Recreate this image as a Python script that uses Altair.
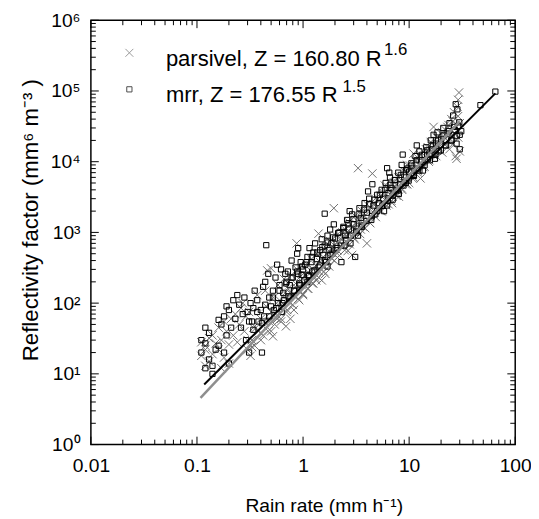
import altair as alt
import pandas as pd

# ---------------- data ----------------
parsivel_R = [
    0.11, 0.12, 0.11, 0.13, 0.12, 0.14, 0.13, 0.15, 0.14, 0.12,
    0.16, 0.17, 0.18, 0.19, 0.20, 0.21, 0.18, 0.20, 0.22, 0.17, 0.16,
    0.23, 0.25, 0.26, 0.28, 0.30, 0.32, 0.29, 0.33, 0.24, 0.27, 0.31, 0.34, 0.35,
    0.37, 0.40, 0.42, 0.45, 0.38, 0.48, 0.44, 0.50, 0.46, 0.50,
    0.52, 0.55, 0.60, 0.58, 0.62, 0.65, 0.69, 0.68, 0.53, 0.57, 0.66, 0.70,
    0.72, 0.75, 0.78, 0.80, 0.82, 0.85, 0.87, 0.88, 0.90, 0.92, 0.95, 0.97, 1.00, 0.76,
    1.05, 1.10, 1.12, 1.15, 1.20, 1.22, 1.25, 1.30, 1.33, 1.35, 1.40, 1.42, 1.45, 1.50,
    1.55, 1.60, 1.65, 1.70, 1.75, 1.80, 1.85, 1.90, 1.95, 2.00, 2.05, 2.10, 2.15, 1.62,
    2.30, 2.40, 2.50, 2.55, 2.60, 2.70, 2.80, 2.90, 2.95, 3.00, 3.10, 3.20, 2.35, 2.65,
    3.3, 3.4, 3.5, 3.6, 3.8, 4.0, 4.0, 4.2, 4.4, 4.5, 4.6, 4.8, 5.0, 3.7,
    5.2, 5.5, 5.7, 6.0, 6.2, 6.4, 6.6, 6.8, 7.0, 5.4, 6.9, 5.9,
    7.3, 7.6, 7.9, 8.2, 8.5, 8.8, 9.0, 9.3, 9.6, 10.0, 10.0, 8.0,
    10.5, 11.0, 11.5, 12.0, 12.5, 13.0, 13.5, 14.0, 14.5, 15.0, 11.0, 12.8,
    15.5, 16.0, 16.5, 17.0, 17.5, 18.0, 18.5, 19.0, 20.0, 20.5, 21.0, 22.0,
    23.0, 23.5, 24.0, 25.0, 25.5, 26.0, 26.5, 27.0, 27.5, 28.0, 28.5, 29.0, 29.5, 30.0, 30.0, 29.0,
    # dense band along the fit
    0.30, 0.33, 0.36, 0.40, 0.43, 0.47, 0.50, 0.54, 0.58, 0.62, 0.66, 0.71, 0.75, 0.80,
    0.85, 0.90, 0.95, 1.0, 1.05, 1.1, 1.17, 1.25, 1.32, 1.4, 1.48, 1.57, 1.66, 1.76,
    1.86, 1.97, 2.08, 2.2, 2.33, 2.47, 2.6, 2.75, 2.9, 3.07, 3.25, 3.45, 3.65, 3.85,
    4.1, 4.3, 4.6, 4.85, 5.1, 5.4, 5.75, 6.1, 6.45, 6.8, 7.2, 7.6, 8.1, 8.6, 9.1, 9.6,
    10.2, 10.8, 11.4, 12.1, 12.8, 13.6, 14.4, 15.3, 16.2, 17.2, 18.2, 19.3, 20.5,
    21.7, 23.0, 24.4, 25.8, 27.3, 28.9,
]
parsivel_Z = [
    28, 22, 18, 32, 25, 19, 15, 27, 35, 13,
    22, 30, 17, 40, 26, 60, 55, 14, 35, 12, 45,
    70, 50, 85, 40, 22, 18, 65, 30, 28, 100, 75, 45, 25,
    130, 60, 35, 90, 40, 55, 150, 40, 290, 310,
    34, 70, 110, 180, 55, 90, 47, 140, 120, 60, 220, 75,
    160, 100, 250, 130, 80, 190, 700, 300, 150, 110, 240, 180, 130, 60,
    200, 350, 160, 260, 420, 190, 300, 230, 210, 500, 960, 280, 380, 210,
    450, 330, 600, 400, 520, 750, 430, 620, 2200, 480, 900, 560, 700, 260,
    800, 650, 1100, 900, 700, 1400, 1000, 480, 1200, 850, 1700, 1300, 1000, 550,
    8100, 1500, 1100, 2000, 1700, 700, 2500, 1400, 2200, 6800, 1900, 3000, 2300, 1200,
    2800, 2000, 3500, 3000, 4200, 2500, 3800, 5000, 3200, 3300, 2600, 4600,
    4500, 3600, 6000, 5200, 4200, 7500, 5800, 4800, 9000, 6500, 5000, 3200,
    8000, 6000, 10000, 7500, 12000, 9000, 14000, 8500, 11500, 16000, 13000, 5800,
    10500, 19000, 14000, 31000, 17000, 12000, 22000, 16000, 25000, 13500, 19500, 28000,
    20000, 33000, 15000, 40000, 24000, 18000, 50000, 30000, 12000, 11000, 60000, 22000, 95000, 35000, 14000, 75000,
    30, 24, 45, 30, 55, 40, 75, 50, 95, 60, 120, 80, 140, 95,
    170, 115, 210, 135, 250, 160, 290, 190, 340, 230, 420, 280, 500, 330,
    600, 400, 720, 470, 850, 560, 1000, 680, 1200, 800, 1450, 950, 1750, 1150,
    2100, 1350, 2500, 1650, 3000, 2000, 3600, 2400, 4300, 2800, 5100, 3300, 6200, 4000, 7300, 4800,
    8800, 5800, 10500, 7000, 12500, 8400, 15000, 10000, 18000, 12000, 22000, 14500, 26000,
    17500, 31000, 21000, 37000, 25000, 44000,
]

mrr_R = [
    0.11, 0.12, 0.11, 0.13, 0.12, 0.14, 0.13, 0.15, 0.14, 0.12,
    0.16, 0.17, 0.18, 0.19, 0.20, 0.21, 0.18, 0.20, 0.22, 0.16, 0.19,
    0.23, 0.25, 0.26, 0.28, 0.30, 0.32, 0.29, 0.33, 0.24, 0.27, 0.31, 0.34, 0.35,
    0.37, 0.40, 0.42, 0.45, 0.38, 0.48, 0.44, 0.50, 0.41, 0.47, 0.43,
    0.52, 0.55, 0.60, 0.58, 0.62, 0.65, 0.68, 0.53, 0.57, 0.66, 0.70, 0.63,
    0.72, 0.75, 0.78, 0.80, 0.82, 0.85, 0.88, 0.90, 0.92, 0.95, 0.97, 1.00, 0.76, 0.90,
    1.05, 1.10, 1.12, 1.15, 1.20, 1.22, 1.25, 1.30, 1.35, 1.40, 1.45, 1.50, 1.10, 1.60,
    1.55, 1.60, 1.65, 1.70, 1.75, 1.80, 1.85, 1.90, 1.95, 2.00, 2.10, 2.20, 1.70,
    2.30, 2.40, 2.50, 2.60, 2.70, 2.80, 2.90, 3.00, 3.10, 3.20, 2.45, 2.75,
    3.4, 3.5, 3.6, 3.8, 4.0, 4.2, 4.4, 4.5, 4.6, 4.8, 5.0, 3.3, 4.1,
    5.2, 5.5, 5.7, 6.0, 6.2, 6.4, 6.6, 6.8, 7.0, 5.8, 6.5,
    7.3, 7.6, 7.9, 8.2, 8.5, 8.7, 9.0, 9.3, 9.6, 10.0, 8.0, 6.2,
    10.5, 11.0, 11.5, 12.0, 12.5, 13.0, 13.5, 14.0, 14.5, 15.0, 11.8,
    15.5, 16.0, 16.5, 17.0, 17.5, 18.0, 18.5, 19.0, 20.0, 21.0, 22.0,
    23.0, 24.0, 25.0, 26.0, 27.0, 28.0, 28.5, 29.0, 30.0, 30.0, 31.0, 27.5, 47.0, 65.0,
    # dense band along the fit
    0.31, 0.34, 0.37, 0.41, 0.44, 0.48, 0.52, 0.56, 0.60, 0.64, 0.69, 0.73, 0.78, 0.83,
    0.88, 0.93, 0.98, 1.03, 1.08, 1.14, 1.21, 1.28, 1.36, 1.44, 1.52, 1.61, 1.71, 1.81,
    1.92, 2.03, 2.14, 2.27, 2.4, 2.54, 2.68, 2.83, 2.99, 3.16, 3.35, 3.55, 3.75, 3.97,
    4.2, 4.45, 4.72, 5.0, 5.3, 5.6, 5.95, 6.3, 6.65, 7.0, 7.4, 7.85, 8.35, 8.85, 9.35, 9.9,
    10.5, 11.1, 11.8, 12.5, 13.2, 14.0, 14.8, 15.7, 16.7, 17.7, 18.8, 19.9, 21.1,
    22.3, 23.7, 25.1, 26.6, 28.1, 29.7,
]
mrr_Z = [
    30, 12, 20, 16, 27, 10, 38, 22, 13, 45,
    25, 50, 65, 35, 80, 45, 20, 14, 110, 58, 90,
    60, 95, 45, 120, 75, 100, 30, 55, 130, 70, 20, 85, 150,
    110, 80, 170, 660, 55, 120, 200, 90, 20, 260, 65,
    150, 230, 180, 100, 300, 140, 260, 80, 350, 110, 200, 75,
    280, 180, 400, 230, 150, 320, 500, 260, 190, 380, 250, 300, 120, 600,
    350, 450, 250, 600, 380, 280, 520, 700, 420, 320, 560, 800, 200, 1840,
    480, 650, 380, 900, 560, 1100, 700, 500, 1300, 820, 600, 1000, 330,
    380, 1200, 900, 1500, 1100, 700, 1800, 1300, 450, 1000, 650, 2000,
    2200, 1600, 1200, 2600, 1900, 3000, 1500, 4800, 2400, 1800, 3400, 900, 3800,
    2600, 4000, 3000, 5000, 2400, 3600, 6000, 4200, 2900, 2000, 7000,
    5500, 4000, 7000, 4800, 9000, 12600, 6000, 5000, 8000, 7200, 3500, 8100,
    9500, 6500, 12000, 8000, 14000, 10000, 7500, 12500, 16000, 11000, 17000,
    13000, 20000, 15000, 24000, 11000, 18000, 26000, 14000, 21000, 30000, 17000,
    25000, 35000, 20000, 45000, 28000, 18000, 55000, 32000, 24000, 15000, 27000, 65000, 63000, 98000,
    55, 42, 75, 52, 95, 65, 120, 85, 150, 100, 190, 125, 230, 150,
    280, 180, 330, 210, 380, 240, 450, 290, 520, 340, 620, 400, 720, 480,
    850, 560, 980, 650, 1150, 780, 1350, 900, 1550, 1050, 1800, 1250, 2100, 1450,
    2500, 1700, 2900, 2000, 3400, 2400, 4000, 2800, 4700, 3300, 5500, 3900, 6500, 4600, 7600, 5400,
    8800, 6300, 10500, 7500, 12500, 8900, 14500, 10500, 17000, 12500, 20000, 14500, 23500,
    17000, 27000, 20000, 31000, 23000, 36000,
]

# fitted power laws shown in the legend
fit_a = [160.80, 176.55]
fit_b = [1.6, 1.5]
fit_R_range = [[0.108, 30.0], [0.117, 65.0]]

legend_text = ["parsivel, Z = 160.80 R", "mrr, Z = 176.55 R"]
legend_exp = ["1.6", "1.5"]

x_major = [0.01, 0.1, 1, 10, 100]
y_major = [1, 10, 100, 1000, 10000, 100000, 1000000]
mantissas = [2, 3, 4, 5, 6, 7, 8, 9]

# ---------------- styling ----------------
W = H = 430
FONT = "Liberation Sans"
GRAY_PT = "#6f6f6f"
GRAY_LINE = "#8e8e8e"
XSHAPE = "M-1,-1L1,1M-1,1L1,-1"

xs = alt.Scale(type="log", domain=[0.01, 100], nice=False)
ys = alt.Scale(type="log", domain=[1, 1e6], nice=False)

xaxis = alt.Axis(
    values=x_major, format="~g", ticks=False, domain=False, grid=False,
    labelFont=FONT, labelFontSize=19.5, labelColor="black", labelPadding=12,
    labelFlush=False, labelOverlap=False,
    title="Rain rate (mm h\u207b\u00b9)", titleFont=FONT, titleFontSize=19.5,
    titleFontWeight="normal", titleColor="black",
    titleX=236, titleY=68, titleBaseline="alphabetic",
)
yaxis = alt.Axis(
    values=y_major, ticks=False, domain=False, grid=False,
    labelExpr="'10' + ['\u2070','\u00b9','\u00b2','\u00b3','\u2074','\u2075','\u2076'][round(log(datum.value)/LN10)]",
    labelFont=FONT, labelFontSize=19.5, labelColor="black", labelPadding=11,
    labelFlush=False, labelOverlap=False,
    title="Reflectivity factor (mm\u2076 m\u207b\u00b3 )", titleFont=FONT, titleFontSize=22.5,
    titleFontWeight="normal", titleColor="black",
    titleX=-49, titleY=202, titleBaseline="bottom",
)

pars_df = pd.DataFrame({"R": parsivel_R, "Z": parsivel_Z})
mrr_df = pd.DataFrame({"R": mrr_R, "Z": mrr_Z})

def fit_df(i):
    r0, r1 = fit_R_range[i]
    return pd.DataFrame({"R": [r0, r1],
                         "Z": [fit_a[i] * r0 ** fit_b[i], fit_a[i] * r1 ** fit_b[i]]})

pts_pars = alt.Chart(pars_df).mark_point(
    shape=XSHAPE, filled=False, color=GRAY_PT, size=72, strokeWidth=1, opacity=1
).encode(x=alt.X("R:Q", scale=xs, axis=xaxis), y=alt.Y("Z:Q", scale=ys, axis=yaxis))

pts_mrr = alt.Chart(mrr_df).mark_point(
    shape="square", filled=False, color="black", size=28, strokeWidth=1, opacity=1
).encode(x=alt.X("R:Q", scale=xs, axis=xaxis), y=alt.Y("Z:Q", scale=ys, axis=yaxis))

line_mrr = alt.Chart(fit_df(1)).mark_line(color="black", strokeWidth=2).encode(
    x=alt.X("R:Q", scale=xs, axis=xaxis), y=alt.Y("Z:Q", scale=ys, axis=yaxis))
line_pars = alt.Chart(fit_df(0)).mark_line(color=GRAY_LINE, strokeWidth=2.5).encode(
    x=alt.X("R:Q", scale=xs, axis=xaxis), y=alt.Y("Z:Q", scale=ys, axis=yaxis))

x_minor = [m * d for d in x_major[:-1] for m in mantissas]
y_minor = [m * d for d in y_major[:-1] for m in mantissas]

def xticks(vals, length, top):
    df = pd.DataFrame({"t": vals})
    if top:
        yy, yy2 = alt.value(0), alt.value(length)
    else:
        yy, yy2 = alt.value(H), alt.value(H - length)
    return alt.Chart(df).mark_rule(color="black", strokeWidth=1).encode(
        x=alt.X("t:Q", scale=xs, axis=xaxis), y=yy, y2=yy2)

def yticks(vals, length, right):
    df = pd.DataFrame({"t": vals})
    if right:
        xx, xx2 = alt.value(W), alt.value(W - length)
    else:
        xx, xx2 = alt.value(0), alt.value(length)
    return alt.Chart(df).mark_rule(color="black", strokeWidth=1).encode(
        y=alt.Y("t:Q", scale=ys, axis=yaxis), x=xx, x2=xx2)

tick_layers = [
    xticks(x_major, 8, False), xticks(x_minor, 5, False),
    xticks(x_major, 8, True), xticks(x_minor, 5, True),
    yticks(y_major, 8, False), yticks(y_minor, 5, False),
    yticks(y_major, 8, True), yticks(y_minor, 5, True),
]

one = pd.DataFrame({"k": [0]})
leg_sym1 = alt.Chart(one).mark_point(
    shape=XSHAPE, filled=False, color=GRAY_PT, size=64, strokeWidth=1
).encode(x=alt.value(39), y=alt.value(33))
leg_sym2 = alt.Chart(one).mark_point(
    shape="square", filled=False, color="black", size=28, strokeWidth=1
).encode(x=alt.value(39), y=alt.value(70))

def leg_text(txt, x, y, size):
    return alt.Chart(pd.DataFrame({"label": [txt]})).mark_text(
        align="left", baseline="alphabetic", font=FONT, fontSize=size, color="black"
    ).encode(x=alt.value(x), y=alt.value(y), text="label:N")

legend_layers = [
    leg_sym1, leg_sym2,
    leg_text(legend_text[0], 76, 46, 22.3), leg_text(legend_exp[0], 297, 35, 17),
    leg_text(legend_text[1], 76, 83, 22.3), leg_text(legend_exp[1], 255, 73, 17),
]

chart = alt.layer(
    pts_pars, pts_mrr, line_mrr, line_pars, *tick_layers, *legend_layers
).properties(
    width=W, height=H,
    padding={"left": 84, "top": 9, "right": 16, "bottom": 72},
    autosize=alt.AutoSizeParams(type="none"),
    background="white",
).configure_view(stroke="black", strokeWidth=1.5)

chart.save("out.html", embed_options={"renderer": "svg", "actions": False})
